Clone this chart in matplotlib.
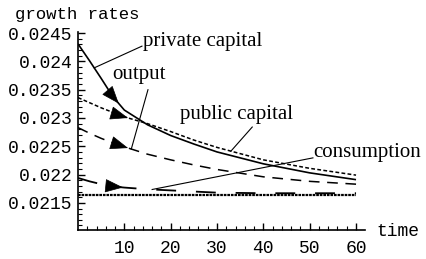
import numpy as np
import matplotlib
matplotlib.use('Agg')
import matplotlib.pyplot as plt

# data
t = [0, 2.5, 5, 7.5, 10, 15, 20, 25, 30, 40, 50, 60]
private_capital = [0.02431, 0.02401, 0.02370, 0.02338, 0.02314, 0.02288, 0.02269, 0.02254, 0.02240, 0.02219, 0.02203, 0.02191]
public_capital = [0.02336, 0.02327, 0.02318, 0.02310, 0.02302, 0.02290, 0.02276, 0.02261, 0.02248, 0.02226, 0.02211, 0.02199]
output = [0.02283, 0.02273, 0.02264, 0.02256, 0.02249, 0.02236, 0.02226, 0.02217, 0.02209, 0.02196, 0.02188, 0.02183]
consumption = [0.02194, 0.02188, 0.02183, 0.02179, 0.02177, 0.02174, 0.02172, 0.02170, 0.02168, 0.02167, 0.02167, 0.02167]
steady_state = 0.02164

yticks = [0.0215, 0.022, 0.0225, 0.023, 0.0235, 0.024, 0.0245]
yticklabels = ['0.0215', '0.022', '0.0225', '0.023', '0.0235', '0.024', '0.0245']
xticks = [10, 20, 30, 40, 50, 60]

mono = 'Liberation Mono'
serif = 'Liberation Serif'

fig = plt.figure(figsize=(4.26, 2.59), dpi=100)
ax = fig.add_axes([78/426, 29/259, 287.3/426, 198/259])
ax.set_xlim(0, 62)
ax.set_ylim(0.02102, 0.02452)

ax.plot(t, private_capital, color='black', lw=1.2, solid_capstyle='butt')
ax.plot(t, public_capital, color='black', lw=1.1, linestyle=(0, (2.5, 1.5)))
ax.plot(t, output, color='black', lw=1.1, linestyle=(0, (7, 5)))
ax.plot(t, consumption, color='black', lw=1.3, linestyle=(0, (11, 11)))
ax.plot([0, 60], [steady_state, steady_state], color='black', lw=1.6,
        linestyle=(0, (1.2, 0.4)))

# arrowheads along the curves
for series, tip in [(private_capital, 8.8), (public_capital, 10.8),
                    (output, 10.8), (consumption, 9.7)]:
    ax.annotate('', xy=(tip, np.interp(tip, t, series)),
                xytext=(tip - 0.6, np.interp(tip - 0.6, t, series)),
                arrowprops=dict(arrowstyle='-|>,head_length=0.9,head_width=0.34',
                                color='black', lw=0.5, mutation_scale=13,
                                shrinkA=0, shrinkB=0))

# labels with pointer lines
labels = [('private capital', private_capital, 3.5, (14.0, 0.024345), (13.8, 0.02427), 'left'),
          ('output', output, 11.5, (13.2, 0.02376), (15.1, 0.02350), 'center'),
          ('public capital', public_capital, 33, (22.0, 0.023055), (37.6, 0.02284), 'left'),
          ('consumption', consumption, 16, (50.7, 0.022383), (50.7, 0.022295), 'left')]
for text, series, tc, tpos, lstart, ha in labels:
    ax.text(tpos[0], tpos[1], text, family=serif, fontsize=15, ha=ha, va='center')
    ax.plot([lstart[0], tc], [lstart[1], np.interp(tc, t, series)], color='black', lw=0.8)

for s in ['top', 'right']:
    ax.spines[s].set_visible(False)
ax.spines['left'].set_linewidth(1.2)
ax.spines['bottom'].set_linewidth(1.2)

ax.set_yticks(yticks)
ax.set_yticklabels(yticklabels, family=mono, fontsize=13)
ax.set_yticks(np.arange(0.0211, 0.02451, 0.0001), minor=True)
ax.set_xticks(xticks)
ax.set_xticklabels([str(x) for x in xticks], family=mono, fontsize=13)
ax.set_xticks(np.arange(2, 61, 2), minor=True)
ax.tick_params(which='major', direction='in', length=5, width=1, pad=4)
ax.tick_params(which='minor', direction='in', length=3, width=0.8)
ax.tick_params(axis='x', which='major', pad=7)

fig.text(15/426, 1 - 14/259, 'growth rates', family=mono, fontsize=12.5, va='center')
fig.text(376/426, 1 - 232/259, 'time', family=mono, fontsize=13, va='center')

fig.savefig('out.png', dpi=100)
